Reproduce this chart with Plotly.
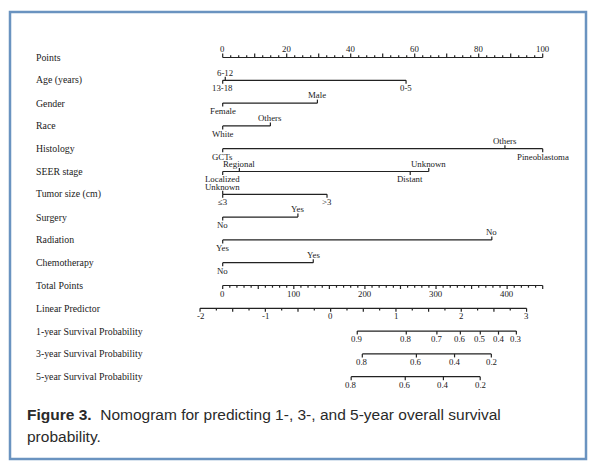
import numpy as np
import plotly.graph_objects as go

# ---------------- data ----------------
row_names = ["Points", "Age (years)", "Gender", "Race", "Histology", "SEER stage",
             "Tumor size (cm)", "Surgery", "Radiation", "Chemotherapy", "Total Points",
             "Linear Predictor", "1-year Survival Probability",
             "3-year Survival Probability", "5-year Survival Probability"]

points_labels = [0, 20, 40, 60, 80, 100]
points_minor_step = 2.5

age_levels = ["6-12", "13-18", "0-5"]
age_points = [0.8, 0.0, 57.3]
gender_levels = ["Female", "Male"]
gender_points = [0.0, 29.6]
race_levels = ["White", "Others"]
race_points = [0.0, 14.9]
histology_levels = ["GCTs", "Others", "Pineoblastoma"]
histology_points = [0.0, 88.2, 100.0]
seer_levels = ["Localized", "Regional", "Distant", "Unknown"]
seer_points = [0.0, 5.2, 58.6, 64.4]
tumor_levels = ["Unknown", "≤3", ">3"]
tumor_points = [0.0, 0.0, 32.6]
surgery_levels = ["No", "Yes"]
surgery_points = [0.0, 23.5]
radiation_levels = ["Yes", "No"]
radiation_points = [0.0, 84.1]
chemo_levels = ["No", "Yes"]
chemo_points = [0.0, 28.3]

total_points_max = 450
total_points_labels = [0, 100, 200, 300, 400]
total_points_minor_step = 10

lp_labels = [-2, -1, 0, 1, 2, 3]
lp_minor_step = 0.25
lp_at_zero_total = -1.653
lp_per_total_point = 4.9 / 450

surv1_probs = [0.9, 0.8, 0.7, 0.6, 0.5, 0.4, 0.3]
surv3_probs = [0.8, 0.6, 0.4, 0.2]
surv5_probs = [0.8, 0.6, 0.4, 0.2]
baseline_surv = {1: 0.9323, 3: 0.8716, 5: 0.8496}

caption_bold = "Figure 3."
caption_line1 = "Nomogram for predicting 1-, 3-, and 5-year overall survival"
caption_line2 = "probability."

# ---------------- layout constants ----------------
W, H = 592, 463
PX0, PXS = 222.7, 3.2      # pixel of 0 points, pixels per point
ROW0, ROWS = 57.5, 22.8    # pixel of first row, pixels per row
LINE_COLOR = "#222222"
TEXT_COLOR = "#1a1a1a"
SERIF = "Liberation Serif, Times New Roman, serif"

def px(n):  # pixel length -> row units
    return n / ROWS

def tp_to_pts(tp):
    return np.asarray(tp, dtype=float) * 100.0 / total_points_max

def lp_to_pts(lp):
    tp = (np.asarray(lp, dtype=float) - lp_at_zero_total) / lp_per_total_point
    return tp_to_pts(tp)

def prob_to_pts(p, year):
    p = np.asarray(p, dtype=float)
    lp = np.log(np.log(p) / np.log(baseline_surv[year]))
    return lp_to_pts(lp)

seg_x, seg_y = [], []
annotations = []

def seg(x0, y0, x1, y1):
    seg_x.extend([x0, x1, None])
    seg_y.extend([y0, y1, None])

def label(x, row, text, up, shift=8, size=8.8):
    annotations.append(dict(x=x, y=row, xref="x", yref="y", text=text, showarrow=False,
                            xanchor="center", yanchor="middle", borderpad=0,
                            yshift=shift if up else -shift,
                            font=dict(family=SERIF, size=size, color=TEXT_COLOR)))

# Points axis (row 0)
seg(0, 0, 100, 0)
for v in np.arange(0, 100 + 1e-9, points_minor_step):
    ln = 4 if abs(v % 10) < 1e-9 else 2.2
    seg(v, 0, v, -px(ln))
for v in points_labels:
    label(v, 0, str(v), True, shift=8.5)

# variable rows
variables = [
    (age_levels, age_points, [True, False, False]),
    (gender_levels, gender_points, [False, True]),
    (race_levels, race_points, [False, True]),
    (histology_levels, histology_points, [False, True, False]),
    (seer_levels, seer_points, [False, True, False, True]),
    (tumor_levels, tumor_points, [True, False, False]),
    (surgery_levels, surgery_points, [False, True]),
    (radiation_levels, radiation_points, [False, True]),
    (chemo_levels, chemo_points, [False, True]),
]
for i, (levels, pts, sides) in enumerate(variables, start=1):
    seg(min(pts), i, max(pts), i)
    for lev, p, up in zip(levels, pts, sides):
        seg(p, i, p, i - px(3.5) if up else i + px(3.5))
        label(p, i, lev, up, shift=7.8)

# Total points (row 10)
r = 10
seg(0, r, float(tp_to_pts(total_points_max)), r)
for v in np.arange(0, total_points_max + 1e-9, total_points_minor_step):
    ln = 3.5 if v % 50 == 0 else 2.2
    x = float(tp_to_pts(v))
    seg(x, r, x, r + px(ln))
for v in total_points_labels:
    label(float(tp_to_pts(v)), r, str(v), False, shift=8)

# Linear predictor (row 11)
r = 11
seg(float(lp_to_pts(min(lp_labels))), r, float(lp_to_pts(max(lp_labels))), r)
for v in np.arange(min(lp_labels), max(lp_labels) + 1e-9, lp_minor_step):
    ln = 3.5 if abs(v * 2 - round(v * 2)) < 1e-9 else 2.2
    x = float(lp_to_pts(v))
    seg(x, r, x, r + px(ln))
for v in lp_labels:
    label(float(lp_to_pts(v)), r, str(v), False, shift=8)

# Survival rows
for r, probs, yr in [(12, surv1_probs, 1), (13, surv3_probs, 3), (14, surv5_probs, 5)]:
    xs = prob_to_pts(probs, yr)
    seg(float(xs.min()), r, float(xs.max()), r)
    for p, x in zip(probs, xs):
        seg(float(x), r, float(x), r + px(3.5))
        label(float(x), r, f"{p:.1f}", False, shift=8)

# row names
for i, name in enumerate(row_names):
    annotations.append(dict(x=35 / W, y=i, xref="paper", yref="y", text=name, showarrow=False,
                            xanchor="left", yanchor="middle", borderpad=0,
                            font=dict(family=SERIF, size=9.8, color=TEXT_COLOR)))

# caption
CAP_FONT = "Liberation Sans Narrow, Arial Narrow, Liberation Sans, Arial, sans-serif"
annotations.append(dict(x=25 / W, y=1 - 414 / H, xref="paper", yref="paper",
                        text=f"<b>{caption_bold}</b>&nbsp;&nbsp;{caption_line1}",
                        showarrow=False, xanchor="left", yanchor="middle",
                        font=dict(family=CAP_FONT, size=15.5, color="#2a2a2a")))
annotations.append(dict(x=25 / W, y=1 - 436 / H, xref="paper", yref="paper",
                        text=caption_line2,
                        showarrow=False, xanchor="left", yanchor="middle",
                        font=dict(family=CAP_FONT, size=15.5, color="#2a2a2a")))

fig = go.Figure()
fig.add_trace(go.Scatter(x=seg_x, y=seg_y, mode="lines",
                         line=dict(color=LINE_COLOR, width=1.2),
                         hoverinfo="skip", showlegend=False))

fig.update_layout(
    width=W, height=H,
    margin=dict(l=0, r=0, t=0, b=0),
    paper_bgcolor="white", plot_bgcolor="rgba(0,0,0,0)",
    xaxis=dict(range=[(0 - PX0) / PXS, (W - PX0) / PXS], visible=False, fixedrange=True),
    yaxis=dict(range=[(H - ROW0) / ROWS, (0 - ROW0) / ROWS], visible=False, fixedrange=True),
    annotations=annotations,
    shapes=[dict(type="rect", xref="paper", yref="paper",
                 x0=10 / W, x1=586 / W, y0=1 - 459 / H, y1=1 - 12 / H,
                 line=dict(color="#6a93c0", width=2.5), fillcolor="rgba(0,0,0,0)",
                 layer="below")],
    showlegend=False,
)

fig.write_html("out.html")
